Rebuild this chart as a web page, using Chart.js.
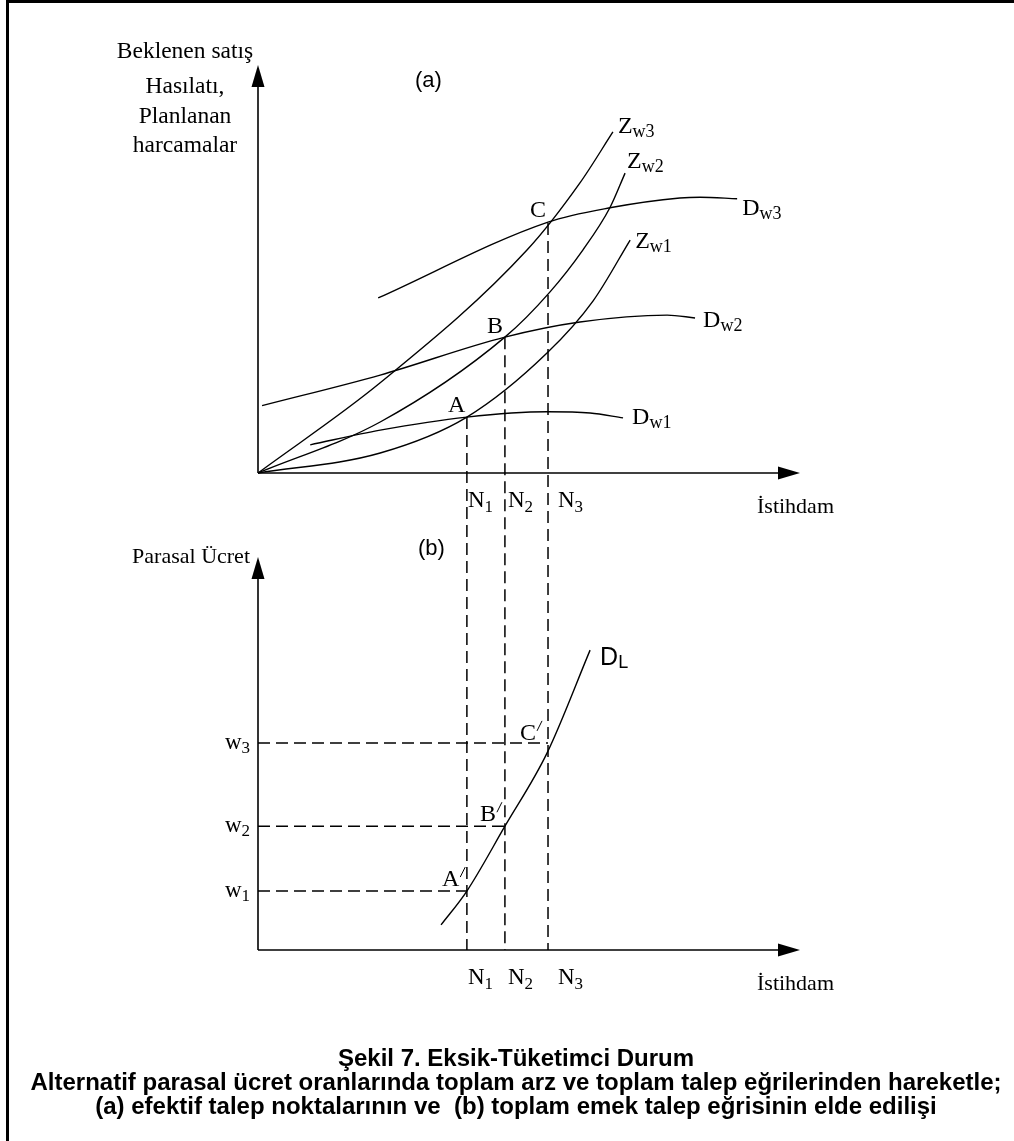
<!DOCTYPE html>
<html><head><meta charset="utf-8">
<script src="https://cdn.jsdelivr.net/npm/chart.js@4/dist/chart.umd.min.js"></script>
<style>
html,body{margin:0;padding:0;background:#fff;}
#wrap{position:relative;width:1014px;height:1141px;overflow:hidden;background:#fff;}
#frame{position:absolute;left:6px;top:0;width:1100px;height:1141px;border-top:3px solid #000;border-left:3px solid #000;box-sizing:border-box;}
#c{position:absolute;left:0;top:0;}
.cap{position:absolute;left:0;width:1032px;text-align:center;font-family:"Liberation Sans",Arial,sans-serif;font-weight:bold;font-size:24px;line-height:24px;white-space:pre;color:#000;}
</style></head>
<body><div id="wrap"><div id="frame"></div><canvas id="c" width="1014" height="1141"></canvas>
<div class="cap" style="top:1046px">Şekil 7. Eksik-Tüketimci Durum</div>
<div class="cap" style="top:1070px">Alternatif parasal ücret oranlarında toplam arz ve toplam talep eğrilerinden hareketle;</div>
<div class="cap" style="top:1094px">(a) efektif talep noktalarının ve  (b) toplam emek talep eğrisinin elde edilişi</div>
</div>
<script>
// ---- data (abstract diagram units) ----
const employmentLabels = ['N1','N2','N3'];
const employmentLevels = [41.2, 48.7, 57.2];        // N1, N2, N3
const effectiveDemand  = [13.7, 33.3, 61.3];        // A, B, C (panel a)
const pointLabels      = ['A','B','C'];
const moneyWages       = [15.0, 31.5, 52.7];        // w1, w2, w3 (panel b)
const wageLabels       = ['w1','w2','w3'];
// aggregate supply curves Z (panel a)
const zW1 = [[0,0],[24.1,4.9],[41.2,13.7],[57.0,29.4],[66.1,42.2],[73.4,57.1]];
const zW2 = [[0,0],[24.1,12.5],[48.7,33.3],[57.6,44.4],[64.1,54.7],[69.4,65.0],[72.4,73.5]];
const zW3 = [[0,0],[24.1,22.1],[53.1,54.7],[63.5,71.1],[70.0,83.6]];
// aggregate demand curves D (panel a)
const dW1 = [[10.3,6.9],[24.1,10.5],[41.2,13.7],[57.0,15.0],[65.5,14.7],[72.0,13.5]];
const dW2 = [[0.8,16.5],[24.1,24.0],[48.7,33.3],[63.5,37.0],[80.7,38.7],[86.2,38.0]];
const dW3 = [[23.7,42.9],[57.2,61.5],[69.4,65.0],[83.2,67.4],[87.2,67.6],[94.5,67.2]];
// labour demand curve (panel b)
const dL  = [[36.1,6.4],[41.2,15.0],[48.7,31.5],[57.0,50.1],[65.5,76.3]];
const axisTop = 100;          // top of both vertical axes
const xAxisEnd = 106.9;       // end of both horizontal axes

// ---- layout ----
const CA = {left:258, right:800, top:65, bottom:950};
const yAZero = 473, yBTop = 557;
const H = CA.bottom - CA.top;
const yARange = 100*H/(yAZero-CA.top);
const yBRange = 100*H/(CA.bottom-yBTop);

const SERIF = '"Liberation Serif","Times New Roman",serif';
const SANS = '"Liberation Sans",Arial,sans-serif';

const pts = a => a.map(p => ({x:p[0], y:p[1]}));
const curve = (data, axis) => ({data: pts(data), yAxisID: axis, showLine:true, borderColor:'#000',
  borderWidth:1.4, pointRadius:0, fill:false, cubicInterpolationMode:'monotone'});
const dashed = (data) => ({data: pts(data), yAxisID:'yB', showLine:true, borderColor:'#000',
  borderWidth:1.5, pointRadius:0, fill:false, borderDash:[12,6], tension:0});

const datasets = [
  curve(zW1,'yA'), curve(zW2,'yA'), curve(zW3,'yA'),
  curve(dW1,'yA'), curve(dW2,'yA'), curve(dW3,'yA'),
  curve(dL,'yB'),
  ...moneyWages.map((w,i) => dashed([[0,w],[employmentLevels[i],w]]))
];

function sub(ctx, main, s, x, y, f1, f2, dy, fam){
  ctx.font = f1+'px '+(fam||SERIF);
  ctx.fillText(main, x, y);
  const w = ctx.measureText(main).width;
  ctx.font = f2+'px '+(fam||SERIF);
  ctx.fillText(s, x+w, y+dy);
}
function prime(ctx, t, x, y){
  ctx.font = '24px '+SERIF;
  ctx.fillText(t, x, y);
  const w = ctx.measureText(t).width;
  ctx.save(); ctx.lineWidth=1; ctx.beginPath();
  ctx.moveTo(x+w+1, y-9); ctx.lineTo(x+w+6, y-19); ctx.stroke(); ctx.restore();
}

const diagram = {
  id:'diagram',
  afterDatasetsDraw(chart){
    const {ctx, scales:{x, yA, yB}} = chart;
    ctx.save();
    ctx.strokeStyle='#000'; ctx.fillStyle='#000';
    const ox = x.getPixelForValue(0), rx = x.getPixelForValue(xAxisEnd);
    const L = 22, hw = 6.5;
    [yA, yB].forEach(ys => {
      const oy = ys.getPixelForValue(0), ty = ys.getPixelForValue(axisTop);
      ctx.lineWidth = 1.6; ctx.setLineDash([]);
      ctx.beginPath(); ctx.moveTo(ox, oy); ctx.lineTo(ox, ty+L-2); ctx.stroke();
      ctx.beginPath(); ctx.moveTo(ox, oy); ctx.lineTo(rx-L+2, oy); ctx.stroke();
      ctx.beginPath(); ctx.moveTo(ox, ty); ctx.lineTo(ox-hw, ty+L); ctx.lineTo(ox+hw, ty+L); ctx.closePath(); ctx.fill();
      ctx.beginPath(); ctx.moveTo(rx, oy); ctx.lineTo(rx-L, oy-hw); ctx.lineTo(rx-L, oy+hw); ctx.closePath(); ctx.fill();
    });
    // vertical dashed lines from effective demand points to panel (b) axis
    ctx.lineWidth = 1.5; ctx.setLineDash([12,6]);
    employmentLevels.forEach((n,i) => {
      const px = x.getPixelForValue(n);
      ctx.beginPath(); ctx.moveTo(px, yA.getPixelForValue(effectiveDemand[i]));
      ctx.lineTo(px, yB.getPixelForValue(0)); ctx.stroke();
    });
    ctx.setLineDash([]);
    // ---- texts ----
    ctx.textBaseline = 'alphabetic'; ctx.textAlign = 'left';
    const end = (arr, ys) => { const p = arr[arr.length-1]; return [x.getPixelForValue(p[0]), ys.getPixelForValue(p[1])]; };
    const curveLabels = [
      [zW3,'Z','w3',5,1],[zW2,'Z','w2',2,-5],[zW1,'Z','w1',5,8],
      [dW3,'D','w3',5,16],[dW2,'D','w2',8,9],[dW1,'D','w1',9,6]
    ];
    curveLabels.forEach(([arr,m,s,dx,dy]) => { const [px,py] = end(arr, yA); sub(ctx, m, s, px+dx, py+dy, 24, 18, 4); });
    // A B C
    const pOff = [[-19,-5],[-18,-4],[-18,-6]];
    pointLabels.forEach((t,i) => {
      ctx.font = '24px '+SERIF;
      ctx.fillText(t, x.getPixelForValue(employmentLevels[i])+pOff[i][0], yA.getPixelForValue(effectiveDemand[i])+pOff[i][1]);
    });
    // N labels under both axes
    const nOff = [1,3,10];
    [yA, yB].forEach(ys => {
      employmentLabels.forEach((t,i) => {
        sub(ctx, t[0], t.slice(1), x.getPixelForValue(employmentLevels[i])+nOff[i], ys.getPixelForValue(0)+34, 23, 17, 5);
      });
      ctx.font = '22px '+SERIF;
      ctx.fillText('İstihdam', rx-43, ys.getPixelForValue(0)+40);
    });
    // primes in panel (b)
    const prOff = [[-25,-5],[-25,-5],[-28,-3]];
    pointLabels.forEach((t,i) => {
      prime(ctx, t, x.getPixelForValue(employmentLevels[i])+prOff[i][0], yB.getPixelForValue(moneyWages[i])+prOff[i][1]);
    });
    // wage labels
    ctx.textAlign = 'right';
    wageLabels.forEach((t,i) => {
      const y = yB.getPixelForValue(moneyWages[i]);
      ctx.font = '17px '+SERIF; const w2 = ctx.measureText(t.slice(1)).width;
      ctx.fillText(t.slice(1), ox-8, y+10);
      ctx.font = '23px '+SERIF; ctx.fillText(t[0], ox-8-w2, y+6);
    });
    // D_L
    ctx.textAlign = 'left';
    { const [px,py] = end(dL, yB); sub(ctx, 'D', 'L', px+10, py+15, 25, 18, 3, SANS); }
    // axis titles
    ctx.textAlign = 'center'; ctx.font = '23.5px '+SERIF;
    const ttl = ['Beklenen satış','Hasılatı,','Planlanan','harcamalar'];
    const tb = [58,93,123,152];
    ttl.forEach((t,i) => ctx.fillText(t, 185, tb[i]));
    ctx.textAlign = 'right'; ctx.font = '22px '+SERIF;
    ctx.fillText('Parasal Ücret', ox-8, yB.getPixelForValue(axisTop)+6);
    ctx.textAlign = 'left'; ctx.font = '22px '+SANS;
    ctx.fillText('(a)', 415, 87);
    ctx.fillText('(b)', 418, 555);
    ctx.restore();
  }
};

new Chart(document.getElementById('c'), {
  type:'scatter',
  data:{datasets},
  options:{
    responsive:false, animation:false, devicePixelRatio:1,
    layout:{padding:{left:CA.left, right:1014-CA.right, top:CA.top, bottom:1141-CA.bottom}},
    plugins:{legend:{display:false}, tooltip:{enabled:false}},
    scales:{
      x:{type:'linear', min:0, max:xAxisEnd, display:false},
      yA:{type:'linear', min:100-yARange, max:100, display:false},
      yB:{type:'linear', min:0, max:yBRange, display:false}
    }
  },
  plugins:[diagram]
});
</script>
</body></html>
